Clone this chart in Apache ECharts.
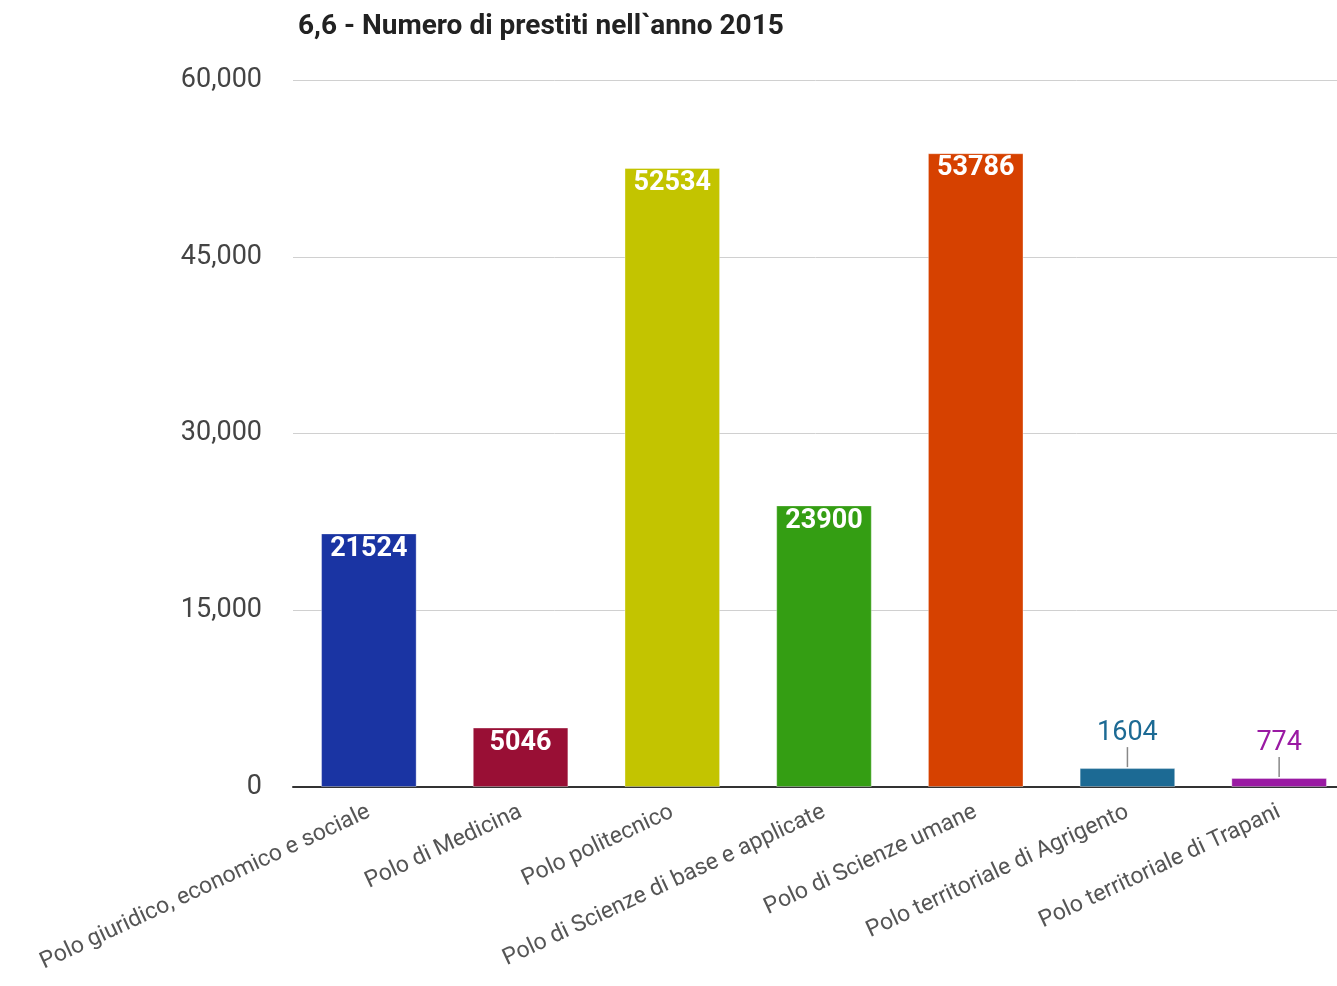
<!DOCTYPE html>
<html><head><meta charset="utf-8">
<script src="https://cdn.jsdelivr.net/npm/echarts@6/dist/echarts.min.js"></script>
<style>html,body{margin:0;padding:0;background:#fff}#c{width:1337px;height:986px}</style>
</head><body><div id="c"></div>
<script>
const titleText = "6,6 - Numero di prestiti nell`anno 2015";
const categories = ["Polo giuridico, economico e sociale","Polo di Medicina","Polo politecnico","Polo di Scienze di base e applicate","Polo di Scienze umane","Polo territoriale di Agrigento","Polo territoriale di Trapani"];
const values = [21524, 5046, 52534, 23900, 53786, 1604, 774];
const colors = ["#1a34a3","#990f35","#c3c400","#349e13","#d64100","#1c6a94","#9a1aa3"];
const yTicks = [0, 15000, 30000, 45000, 60000];

const SMALL = 3000;
const chart = echarts.init(document.getElementById('c'));
const data = values.map((v, i) => {
  const small = v < SMALL;
  return {
    value: v,
    itemStyle: { color: colors[i], borderColor: 'rgba(255,255,255,0.35)', borderWidth: 1 },
    label: small ? {
      position: 'top', distance: 21, color: colors[i], fontWeight: 'normal', fontSize: 27
    } : {
      position: 'insideTop', distance: 2, color: '#fff', fontWeight: 'bold', fontSize: 27
    }
  };
});
const leaderData = values.map((v, i) => v < SMALL ? [i, v] : null).filter(d => d);
chart.setOption({
  animation: false,
  title: { text: titleText, left: 293, top: 8, textStyle: { fontFamily: 'Roboto', fontWeight: 'bold', fontSize: 28, color: '#222' } },
  grid: { left: 293, width: 1062, top: 80, height: 707, containLabel: false, outerBoundsMode: 'none' },
  xAxis: {
    type: 'category', data: categories,
    axisLine: { lineStyle: { color: '#333', width: 2 } },
    axisTick: { show: false },
    axisLabel: { rotate: 25, interval: 0, fontFamily: 'Roboto', fontSize: 23, color: '#555', margin: 24 }
  },
  yAxis: {
    type: 'value', min: 0, max: 60000, interval: 15000,
    axisLine: { show: false }, axisTick: { show: false },
    splitLine: { lineStyle: { color: '#d0d0d0', width: 1 } },
    axisLabel: { fontFamily: 'Roboto', fontSize: 27, color: '#444', margin: 31,
      formatter: v => yTicks.includes(v) ? v.toLocaleString('en-US') : '' }
  },
  series: [{
    type: 'bar', data: data, barWidth: '63%',
    label: { show: true, fontFamily: 'Roboto' }
  }, {
    type: 'custom', data: leaderData, silent: true, z: 5,
    renderItem: (params, api) => {
      const p = api.coord([api.value(0), api.value(1)]);
      return { type: 'line', shape: { x1: p[0], y1: p[1] - 1, x2: p[0], y2: p[1] - 21 },
        style: { stroke: '#888', lineWidth: 1.5 } };
    }
  }]
});
</script></body></html>
